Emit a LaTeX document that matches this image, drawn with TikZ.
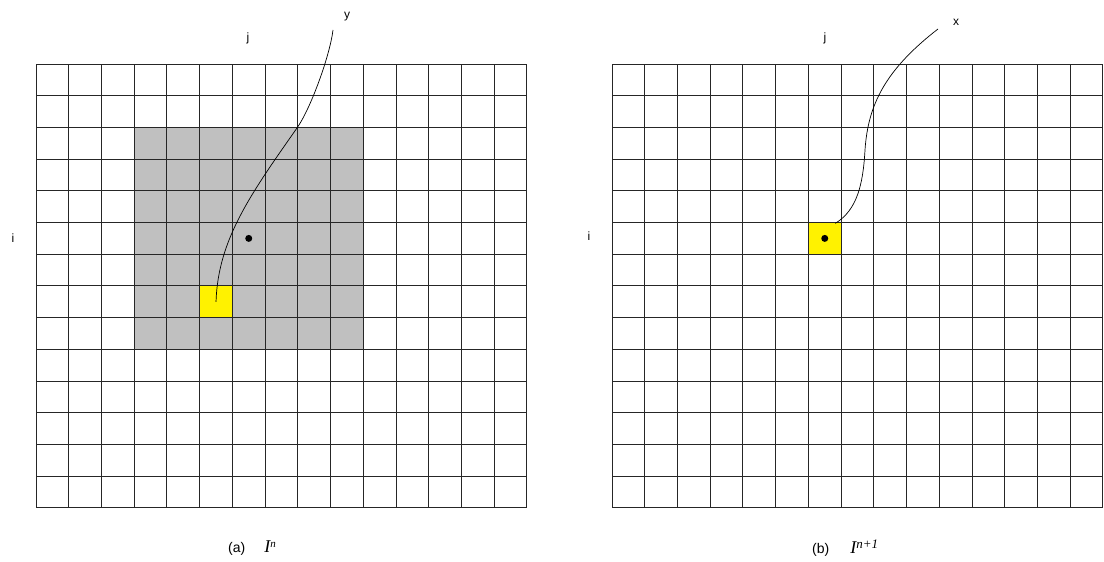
\documentclass[tikz,border=0pt]{standalone}
\usepackage{fontspec}
\setmainfont{Liberation Sans}
\newfontfamily\serifit{Liberation Serif}
\newcommand{\cellw}{32.73}
\newcommand{\cellh}{31.71}

\begin{document}
\begin{tikzpicture}[x=1pt, y=-1pt,
    gridline/.style={line width=1pt, black!85},
    graycell/.style={fill={rgb,255:red,192;green,192;blue,192}},
    pixcell/.style={fill=yellow, inner sep=0pt, minimum width=\cellw pt, minimum height=\cellh pt},
    dotmark/.style={fill=black, circle, inner sep=0pt, minimum size=7pt},
    lbl/.style={font=\fontsize{12}{14}\selectfont, inner sep=0pt},
    capt/.style={font=\fontsize{14}{16}\selectfont, inner sep=0pt, anchor=west},
    leader/.style={line width=0.7pt}]
    \useasboundingbox (0,0) rectangle (1104,562);

    % Window and pixels
    \fill[graycell] (36+3*\cellw, 64+2*\cellh) rectangle ++(7*\cellw, 7*\cellh);
    \node[pixcell] (ypix) at (36+5.5*\cellw, 64+7.5*\cellh) {};
    \node[pixcell] (xpix) at (612+6.5*\cellw, 64+5.5*\cellh) {};

    % Grids
    \foreach \gx in {36, 612} {
        \foreach \k in {0,...,15}
            \draw[gridline] (\gx+\k*\cellw, 64) -- (\gx+\k*\cellw, 64+14*\cellh);
        \foreach \k in {0,...,14}
            \draw[gridline] (\gx, 64+\k*\cellh) -- (\gx+15*\cellw, 64+\k*\cellh);
    }

    % Dots
    \node[dotmark] (ydot) at (36+6.5*\cellw, 64+5.5*\cellh) {};
    \node[dotmark] (xdot) at (xpix.center) {};

    % Labels
    \node[lbl] (jleft) at (248,38) {j};
    \node[lbl] (ileft) at (13,238) {i};
    \node[lbl] (ylab) at (347,17) {y};
    \node[lbl] (jright) at (825,38) {j};
    \node[lbl] (iright) at (589,236) {i};
    \node[lbl] (xlab) at (956,22) {x};

    % Leader curves
    \coordinate (yend) at (333,30);
    \coordinate (xend) at (938,29);
    \draw[leader] (ypix.center) .. controls (218,240) and (250,195) .. (297,128)
        .. controls (311,108) and (330,55) .. (yend);
    \draw[leader] ([xshift=-6pt,yshift=-1pt]xpix.north east) .. controls (857,210) and (863,185) .. (865,150)
        .. controls (868,105) and (885,70) .. (xend);

    % Captions
    \node[capt] (capa) at (228,548) {(a)\hspace{19pt}{\serifit\itshape\fontsize{18}{20}\selectfont I\raisebox{5pt}{\fontsize{11}{13}\selectfont n}}};
    \node[capt] (capb) at (812,548) {(b)\hspace{21pt}{\serifit\itshape\fontsize{18}{20}\selectfont I\raisebox{5pt}{\fontsize{13}{15}\selectfont n+1}}};
\end{tikzpicture}
\end{document}
